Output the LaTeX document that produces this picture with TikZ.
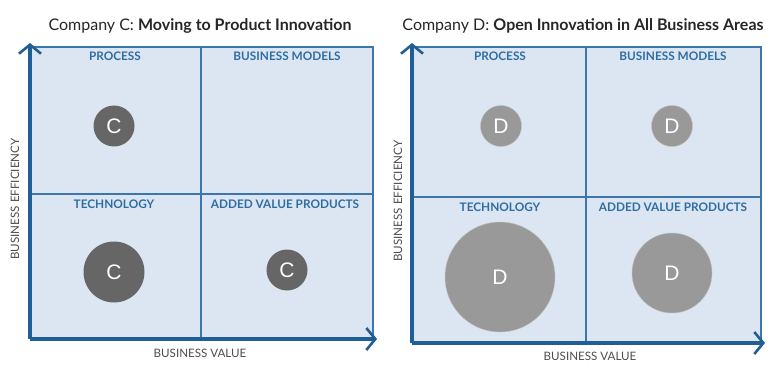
\documentclass[tikz,border=0pt]{standalone}
\usepackage{fontspec}
\setmainfont{Lato}
\newfontfamily\bubfont{Liberation Sans}
\usepackage{xcolor}
\usetikzlibrary{arrows.meta,positioning}
\definecolor{cellfill}{HTML}{DCE6F2}
\definecolor{gridblue}{HTML}{3C76AA}
\definecolor{axisblue}{HTML}{1F5F96}
\definecolor{labblue}{HTML}{2E6DA4}
\definecolor{darkbub}{HTML}{666666}
\definecolor{lightbub}{HTML}{999999}

\begin{document}
\begin{tikzpicture}[x=1pt, y=-1pt,
  title/.style={font=\fontsize{16}{18}\selectfont, text=black!85},
  cell/.style={font=\bfseries\fontsize{11.8}{13}\selectfont, text=labblue},
  axlab/.style={font=\fontsize{11.6}{13}\selectfont, text=black!70},
  bub/.style={circle, inner sep=0pt, text=white, font=\bubfont\fontsize{21}{23}\selectfont},
  cbub/.style={bub, fill=darkbub},
  dbub/.style={bub, fill=lightbub, draw=black!25, line width=0.4pt},
  grid/.style={draw=gridblue, line width=1.2pt},
  axis/.style={draw=axisblue, line width=4pt, -{Straight Barb[length=9pt, width=22pt, line width=2.6pt]}}]
\useasboundingbox (0,0) rectangle (770,374);

% Company C
\node[title] (titleC) at (200,26) {Company C: \textbf{Moving to Product Innovation}};
\fill[cellfill] (30,47) rectangle (373,339);
\draw[grid] (30,47) -- (373,47) -- (373,339);
\draw[grid] (201,47) -- (201,339);
\draw[grid] (30,194) -- (373,194);
\coordinate (oC) at (30,339);
\coordinate (yC) at (30,43);
\coordinate (xC) at (377,339);
\draw[axis] (oC) -- (yC);
\draw[axis] (oC) -- (xC);
\node[cell] (procC) at (115,56) {PROCESS};
\node[cell] (bmC) at (287,56) {BUSINESS MODELS};
\node[cell] (techC) at (114,204) {TECHNOLOGY};
\node[cell] (avpC) at (285,204) {ADDED VALUE PRODUCTS};
\node[cbub, minimum size=41pt] (c1) at (114,126) {C};
\node[cbub, minimum size=61pt] (c2) at (114,272) {C};
\node[cbub, minimum size=41pt] (c3) at (287,270) {C};
\node[axlab, rotate=90] (effC) at (15,199) {BUSINESS EFFICIENCY};
\node[axlab] (valC) at (200,353) {BUSINESS VALUE};

% Company D
\node[title] (titleD) at (583,26) {Company D: \textbf{Open Innovation in All Business Areas}};
\fill[cellfill] (412,47) rectangle (761,343);
\draw[grid] (412,47) -- (761,47) -- (761,343);
\draw[grid] (586,47) -- (586,343);
\draw[grid] (412,197) -- (761,197);
\coordinate (oD) at (412,343);
\coordinate (yD) at (412,43);
\coordinate (xD) at (765,343);
\draw[axis] (oD) -- (yD);
\draw[axis] (oD) -- (xD);
\node[cell] (procD) at (500,56) {PROCESS};
\node[cell] (bmD) at (673,56) {BUSINESS MODELS};
\node[cell] (techD) at (500,207) {TECHNOLOGY};
\node[cell] (avpD) at (673,207) {ADDED VALUE PRODUCTS};
\node[dbub, minimum size=41pt] (d1) at (501,126) {D};
\node[dbub, minimum size=41pt] (d2) at (672,126) {D};
\node[dbub, minimum size=110pt] (d3) at (500,277) {D};
\node[dbub, minimum size=80pt] (d4) at (672,273) {D};
\node[axlab, rotate=90] (effD) at (398,201) {BUSINESS EFFICIENCY};
\node[axlab] (valD) at (590,356) {BUSINESS VALUE};
\end{tikzpicture}
\end{document}
